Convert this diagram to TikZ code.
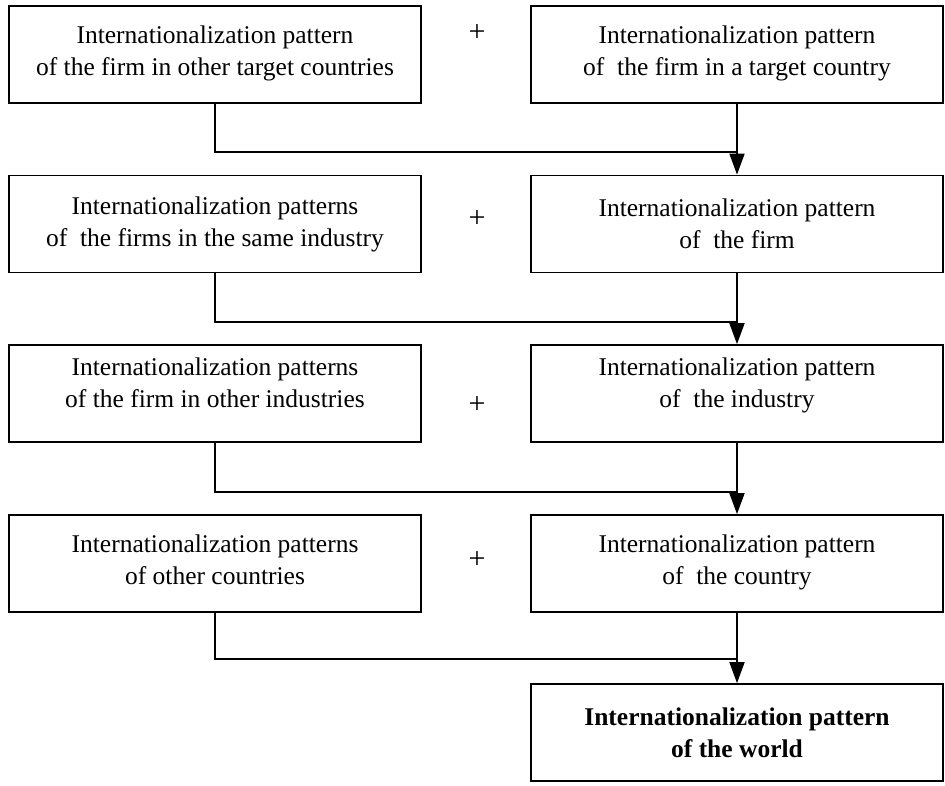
\documentclass[tikz,border=0pt]{standalone}
\usepackage{fontspec}
\setmainfont{Liberation Serif}
\usetikzlibrary{arrows.meta}
\begin{document}
\begin{tikzpicture}[x=1pt,y=-1pt,
  box/.style={draw, line width=1.7pt, minimum width=412pt, minimum height=97pt,
    inner sep=0pt, align=center, font=\fontsize{25.5}{32}\selectfont},
  plus/.style={font=\fontsize{30}{32}\selectfont, inner sep=0pt},
  conn/.style={line width=1.7pt},
  arr/.style={line width=1.7pt, -{Triangle[length=21pt,width=15pt]}}]
\useasboundingbox (0,0) rectangle (945,786);

\node[box] (L1) at (215,54.5) {Internationalization pattern\\of the firm in other target countries\\[-24pt]};
\node[box] (R1) at (737,54.5) {Internationalization pattern\\of~~the firm in a target country\\[-24pt]};
\node[box] (L2) at (215,224) {Internationalization patterns\\of~~the firms in the same industry};
\node[box] (R2) at (737,224) {Internationalization pattern\\of~~the firm};
\node[box] (L3) at (215,393.5) {Internationalization patterns\\of the firm in other industries\\[-10pt]};
\node[box] (R3) at (737,393.5) {Internationalization pattern\\of~~the industry\\[-10pt]};
\node[box] (L4) at (215,563.5) {Internationalization patterns\\of other countries\\[-24pt]};
\node[box] (R4) at (737,563.5) {Internationalization pattern\\of~~the country\\[-24pt]};
\node[box, font=\fontsize{25.5}{32}\selectfont\bfseries] (R5) at (737,732.5) {Internationalization pattern\\of the world};

\node[plus] (p1) at (477,33) {+};
\node[plus] (p2) at (477,219) {+};
\node[plus] (p3) at (477,405) {+};
\node[plus] (p4) at (477,560) {+};

\coordinate (j1) at (737,152);
\coordinate (j2) at (737,322);
\coordinate (j3) at (737,492);
\coordinate (j4) at (737,659);

\draw[conn] (L1.south) |- (j1);
\draw[conn] (L2.south) |- (j2);
\draw[conn] (L3.south) |- (j3);
\draw[conn] (L4.south) |- (j4);

\draw[arr] (R1.south) -- (R2.north);
\draw[arr] (R2.south) -- (R3.north);
\draw[arr] (R3.south) -- (R4.north);
\draw[arr] (R4.south) -- (R5.north);
\end{tikzpicture}
\end{document}
